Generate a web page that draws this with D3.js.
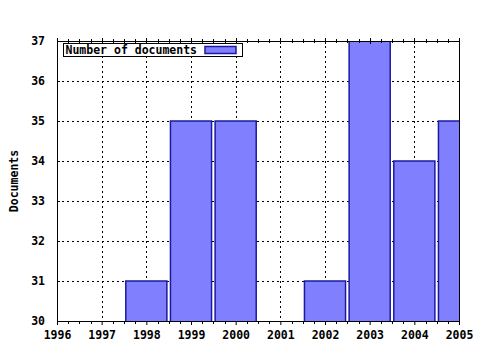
<!DOCTYPE html>
<html>
<head>
<meta charset="utf-8">
<script src="https://cdn.jsdelivr.net/npm/d3@7"></script>
<style>
  html, body { margin: 0; padding: 0; background: #fff; }
  svg { display: block; }
  text { font-family: "DejaVu Sans Mono", monospace; font-weight: bold; fill: #000; }
</style>
</head>
<body>
<svg id="chart" width="480" height="350"></svg>
<script>
// Data
const years = [1996, 1997, 1998, 1999, 2000, 2001, 2002, 2003, 2004, 2005];
const documents = [0, 0, 31, 35, 35, 0, 31, 37, 34, 35];
const yTicks = [30, 31, 32, 33, 34, 35, 36, 37];
const seriesName = "Number of documents";
const yTitle = "Documents";

const W = 480, H = 350;
const m = { left: 57, right: 21, top: 41, bottom: 29 };
const pw = W - m.left - m.right, ph = H - m.top - m.bottom;

const svg = d3.select("#chart");
const g = svg.append("g").attr("transform", `translate(${m.left},${m.top})`);

const x = d3.scaleLinear().domain([1996, 2005]).range([0, pw]);
const y = d3.scaleLinear().domain([30, 37]).range([ph, 0]);
const step = x(1997) - x(1996);
const barW = step * 0.92;

svg.append("defs").append("clipPath").attr("id", "clip")
  .append("rect").attr("x", 0).attr("y", 0).attr("width", pw).attr("height", ph);

// grid
const grid = g.append("g").attr("stroke", "#000").attr("stroke-width", 1)
  .attr("stroke-dasharray", "2,3").attr("shape-rendering", "crispEdges");
grid.selectAll("line.v").data(years.slice(1, -1)).join("line")
  .attr("x1", d => Math.round(x(d)) + 0.5).attr("x2", d => Math.round(x(d)) + 0.5)
  .attr("y1", 0).attr("y2", ph);
grid.selectAll("line.h").data(yTicks.slice(1, -1)).join("line")
  .attr("y1", d => Math.round(y(d)) + 0.5).attr("y2", d => Math.round(y(d)) + 0.5)
  .attr("x1", 0).attr("x2", pw);

// bars
g.append("g").attr("clip-path", "url(#clip)")
  .selectAll("rect").data(years.map((yr, i) => ({ yr, v: documents[i] })).filter(d => d.v > 30))
  .join("rect")
  .attr("x", d => x(d.yr) - barW / 2)
  .attr("y", d => y(d.v))
  .attr("width", barW)
  .attr("height", d => y(30) - y(d.v) + 2)
  .attr("fill", "#8080ff")
  .attr("stroke", "#1a1aa0")
  .attr("stroke-width", 1.5);

// frame
g.append("rect").attr("x", 0.5).attr("y", 0.5).attr("width", pw).attr("height", ph)
  .attr("fill", "none").attr("stroke", "#000").attr("stroke-width", 1)
  .attr("shape-rendering", "crispEdges");

// bottom axis
const xAxis = d3.axisBottom(x).tickValues(years).tickFormat(d3.format("d"))
  .tickSize(4).tickPadding(6);
const gx = g.append("g").attr("transform", `translate(0,${ph})`).call(xAxis);
gx.select(".domain").remove();
gx.selectAll("text").attr("font-size", 11.5).attr("font-family", "DejaVu Sans Mono").attr("font-weight", "bold");

// minor ticks (bottom and top)
const minor = [];
for (let i = 0; i < years.length - 1; i++) for (let k = 1; k < 4; k++) minor.push(years[i] + k / 4);
const tk = g.append("g").attr("stroke", "#000").attr("stroke-width", 1).attr("shape-rendering", "crispEdges");
tk.selectAll("line.bm").data(minor).join("line")
  .attr("x1", d => Math.round(x(d)) + 0.5).attr("x2", d => Math.round(x(d)) + 0.5)
  .attr("y1", ph).attr("y2", ph + 3);
tk.selectAll("line.tm").data(minor).join("line")
  .attr("x1", d => Math.round(x(d)) + 0.5).attr("x2", d => Math.round(x(d)) + 0.5)
  .attr("y1", -2).attr("y2", 2);
tk.selectAll("line.tM").data(years).join("line")
  .attr("x1", d => Math.round(x(d)) + 0.5).attr("x2", d => Math.round(x(d)) + 0.5)
  .attr("y1", -3).attr("y2", 3);

// left axis
const yAxis = d3.axisLeft(y).tickValues(yTicks).tickFormat(d3.format("d"))
  .tickSize(3).tickPadding(9);
const gy = g.append("g").call(yAxis);
gy.select(".domain").remove();
gy.selectAll(".tick line").attr("x2", 3);
gy.selectAll("text").attr("font-size", 11.5).attr("font-family", "DejaVu Sans Mono").attr("font-weight", "bold");

// y title
svg.append("text").attr("transform", `translate(18,${m.top + ph / 2}) rotate(-90)`)
  .attr("text-anchor", "middle").attr("font-size", 11.5).text(yTitle);

// legend
const lg = svg.append("g").attr("transform", "translate(63.5,43.5)");
lg.append("rect").attr("width", 179).attr("height", 13).attr("fill", "#fff")
  .attr("stroke", "#000").attr("stroke-width", 1);
lg.append("text").attr("x", 2).attr("y", 10.5).attr("font-size", 11.5).text(seriesName);
lg.append("rect").attr("x", 141.5).attr("y", 3).attr("width", 31).attr("height", 7)
  .attr("fill", "#8080ff").attr("stroke", "#1a1aa0").attr("stroke-width", 1.5);
</script>
</body>
</html>
